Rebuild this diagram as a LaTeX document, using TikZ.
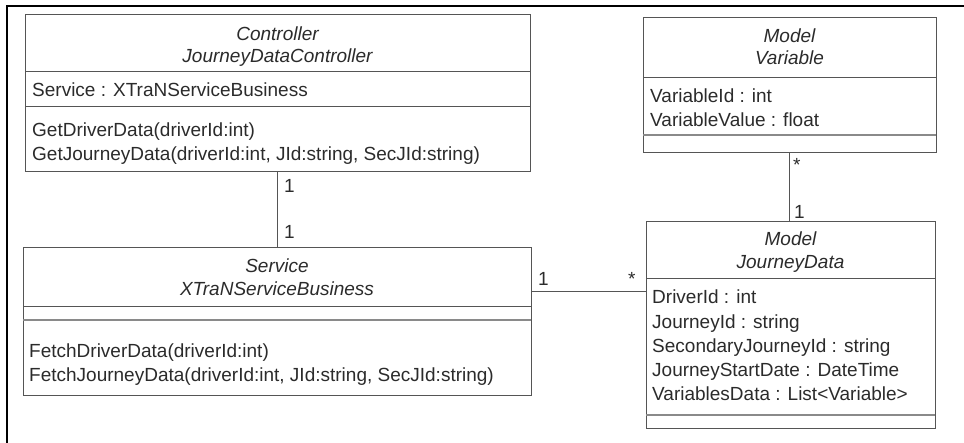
\documentclass[tikz,border=0pt]{standalone}
\usepackage{fontspec}
\setmainfont{Liberation Sans}
\definecolor{txt}{HTML}{2B2B2B}
\definecolor{edge}{HTML}{555555}
\definecolor{soft}{HTML}{8A8A8A}
\begin{document}
\begin{tikzpicture}[x=1pt,y=-1pt,
  font=\fontsize{19}{23}\selectfont, text=txt,
  classbox/.style={draw=edge, line width=1pt, inner sep=0pt, outer sep=0pt, anchor=north west},
  divider/.style={draw=edge, line width=1pt},
  softdiv/.style={draw=soft, line width=1.4pt},
  head/.style={anchor=base, inner sep=0pt, font=\fontsize{19}{23}\selectfont\itshape},
  attr/.style={anchor=base west, inner sep=0pt},
  mult/.style={anchor=base west, inner sep=0pt},
  conn/.style={draw=edge, line width=1pt}]
\useasboundingbox (0,0) rectangle (964,443);
% frame
\draw[black, line width=1.3pt] (7,443) -- (7,6) -- (964,6);

% Controller
\node[classbox, minimum width=505pt, minimum height=157pt] (ctrl) at (25,15) {};
\draw[divider] (25,72) -- (530,72);
\draw[divider] (25,107) -- (530,107);
\node[head] (ctrlA) at (277.5,41) {Controller};
\node[head] (ctrlB) at (277.5,63) {JourneyDataController};
\node[attr] (ctrlC) at (32,97) {Service : XTraNServiceBusiness};
\node[attr] (ctrlD) at (32,137) {GetDriverData(driverId:int)};
\node[attr] (ctrlE) at (32,161) {GetJourneyData(driverId:int, JId:string, SecJId:string)};

% Service
\node[classbox, minimum width=508pt, minimum height=148pt] (svc) at (23,248) {};
\draw[divider] (23,307) -- (531,307);
\draw[softdiv] (23,320) -- (531,320);
\node[head] (svcA) at (277,273) {Service};
\node[head] (svcB) at (277,296) {XTraNServiceBusiness};
\node[attr] (svcC) at (29,358) {FetchDriverData(driverId:int)};
\node[attr] (svcD) at (29,382) {FetchJourneyData(driverId:int, JId:string, SecJId:string)};

% Variable
\node[classbox, minimum width=293pt, minimum height=135pt] (var) at (643,18) {};
\draw[divider] (643,78) -- (936,78);
\draw[softdiv] (643,135) -- (936,135);
\node[head] (varA) at (789.5,43) {Model};
\node[head] (varB) at (789.5,65) {Variable};
\node[attr] (varC) at (650,103) {VariableId : int};
\node[attr] (varD) at (650,127) {VariableValue : float};

% JourneyData
\node[classbox, minimum width=289pt, minimum height=207pt] (jd) at (646,222) {};
\draw[divider] (646,279) -- (935,279);
\draw[softdiv] (646,415) -- (935,415);
\node[head] (jdA) at (790.5,246) {Model};
\node[head] (jdB) at (790.5,269) {JourneyData};
\node[attr] (jdC) at (652,304) {DriverId : int};
\node[attr] (jdD) at (652,329) {JourneyId : string};
\node[attr] (jdE) at (652,353) {SecondaryJourneyId : string};
\node[attr] (jdF) at (652,377) {JourneyStartDate : DateTime};
\node[attr] (jdG) at (652,401) {VariablesData : List<Variable>};

% connectors
\draw[conn] (ctrl.south) -- (svc.north -| ctrl.south);
\coordinate (ysj) at (0,292);
\draw[conn] (svc.east |- ysj) -- (jd.west |- ysj);
\draw[conn] (var.south) -- (jd.north -| var.south);

% multiplicities
\node[mult] (m1) at (284,193) {1};
\node[mult] (m2) at (284,239) {1};
\node[mult] (m3) at (538,286) {1};
\node[mult] (m4) at (628,286) {*};
\node[mult] (m5) at (793,172) {*};
\node[mult] (m6) at (794,219) {1};
\end{tikzpicture}
\end{document}
